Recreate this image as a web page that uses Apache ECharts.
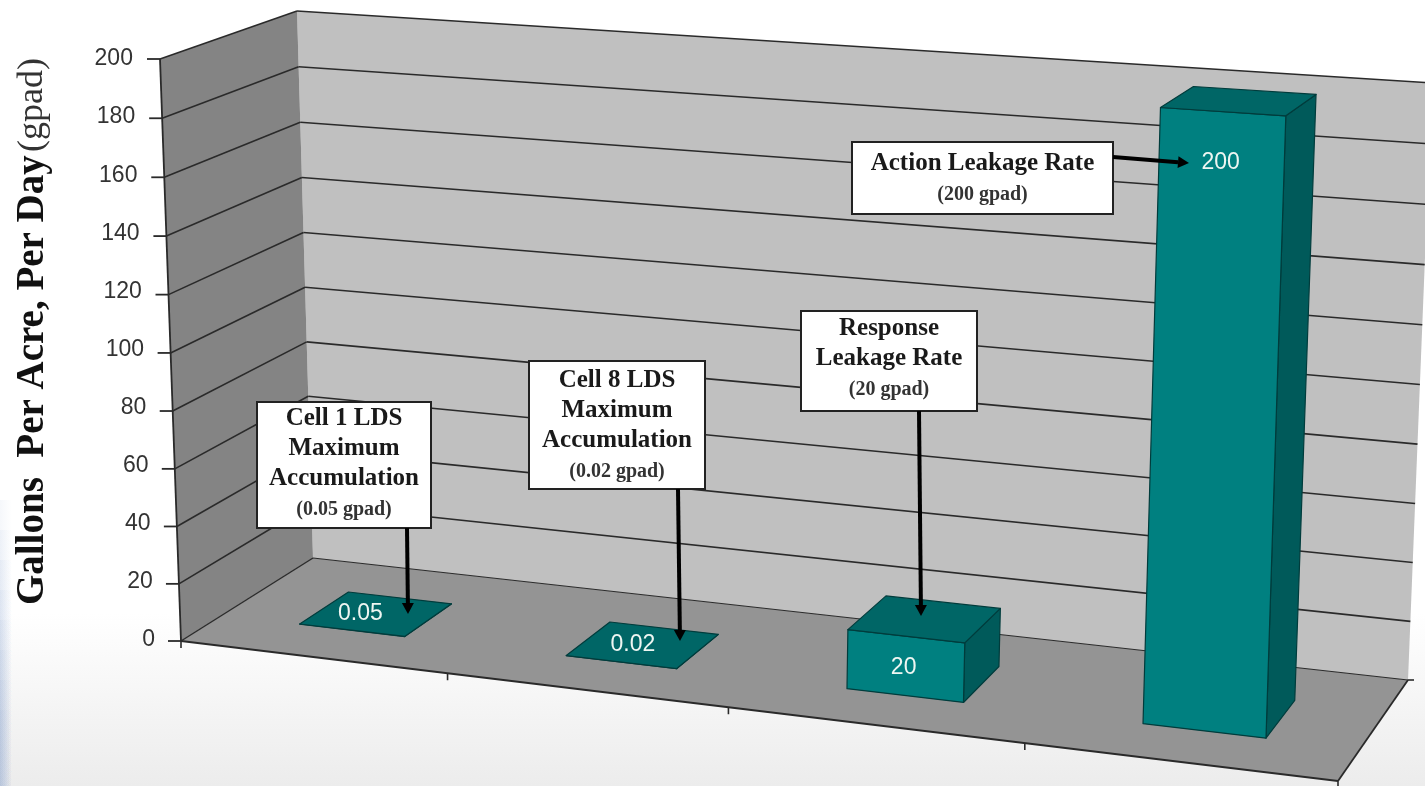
<!DOCTYPE html>
<html>
<head>
<meta charset="utf-8">
<style>
html,body{margin:0;padding:0;background:#fff;overflow:hidden}
#chart{width:1425px;height:786px;filter:blur(0.6px)}
</style>
<script src="https://cdn.jsdelivr.net/npm/echarts@6/dist/echarts.min.js"></script>
</head>
<body>
<div id="chart"></div>
<script>
// ---- data ----
const categories = ['Cell 1 LDS', 'Cell 8 LDS', 'Response Leakage Rate', 'Action Leakage Rate'];
const leakageValues = [0.05, 0.02, 20, 200];
const valueLabels = ['0.05', '0.02', '20', '200'];
const yTickValues = [0, 20, 40, 60, 80, 100, 120, 140, 160, 180, 200];
const axisTitle = 'Gallons  Per Acre, Per Day';
const axisUnit = '(gpad)';
const noteTitles = [
  ['Cell 1 LDS', 'Maximum', 'Accumulation'],
  ['Cell 8 LDS', 'Maximum', 'Accumulation'],
  ['Response', 'Leakage Rate'],
  ['Action Leakage Rate']
];
const noteSubtitles = ['(0.05 gpad)', '(0.02 gpad)', '(20 gpad)', '(200 gpad)'];

// ---- layout: the box in perspective (screen corners of the chart's 3D cube) ----
const FLOOR = {a: [181, 641], b: [1338, 781], c: [313, 558], d: [1408, 680]};
const ROOF  = {a: [160, 59],  b: [1358, 140], c: [297, 11],  d: [1432, 83]};
const GRID = {left: 160, right: 85, top: 59, bottom: 146};
const BAR_BAND = 0.40, DEPTH_FRONT = 0.30, DEPTH_BACK = 0.68, HEIGHT_PERSPECTIVE = 0.98;
const LABEL_OFFSET = [[-17, 1], [-11, 1], [-22, 50], [-19, 62]];
const NOTE_BOXES = [[257, 402, 174, 126], [529, 361, 176, 128], [801, 311, 176, 100], [852, 142, 261, 72]];
const NOTE_ARROWS = [[[407, 528], [408, 614]], [[678, 489], [680, 641]], [[919, 411], [921, 616]], [[1113, 157], [1189, 163]]];
const NOTE_TEXT_TOP = [404, 366, 314, 149];

const COLORS = {wall: '#c0c0c0', side: '#848484', floor: '#949494', line: '#2a2a2a',
                barFront: '#008080', barTop: '#006666', barSide: '#005a5a', barEdge: '#003c3c'};

function quadMap(q) {
  const bx = q.b[0] - q.d[0], by = q.b[1] - q.d[1], cx = q.c[0] - q.d[0], cy = q.c[1] - q.d[1];
  const ax = q.a[0] - q.d[0], ay = q.a[1] - q.d[1];
  const det = bx * cy - cx * by;
  const wu = (ax * cy - cx * ay) / det, wd = (bx * ay - ax * by) / det;
  return function (u, d) {
    const w = 1 + (wu - 1) * u + (wd - 1) * d;
    return [
      (q.a[0] + (wu * q.b[0] - q.a[0]) * u + (wd * q.c[0] - q.a[0]) * d) / w,
      (q.a[1] + (wu * q.b[1] - q.a[1]) * u + (wd * q.c[1] - q.a[1]) * d) / w
    ];
  };
}
const floorAt = quadMap(FLOOR), roofAt = quadMap(ROOF);
// u, d and h are all in 0..1: along the categories, into the depth, up the value axis
function project(u, d, h) {
  const t = h * HEIGHT_PERSPECTIVE / (1 + (HEIGHT_PERSPECTIVE - 1) * h);
  const f = floorAt(u, d), r = roofAt(u, d);
  return [f[0] + (r[0] - f[0]) * t, f[1] + (r[1] - f[1]) * t];
}
function shapeOf(params, api, xy) {
  const cs = params.coordSys;
  return {u: (xy[0] - cs.x) / cs.width, h: (cs.y + cs.height - xy[1]) / cs.height, cs: cs};
}
function poly(points, fill, stroke, z) {
  return {type: 'polygon', z2: z || 0, shape: {points: points},
    style: {fill: fill, stroke: stroke || 'none', lineWidth: stroke ? 1.2 : 0, lineJoin: 'round'}};
}
function seg(p, q, width, z) {
  return {type: 'line', z2: z || 1, shape: {x1: p[0], y1: p[1], x2: q[0], y2: q[1]},
    style: {stroke: COLORS.line, lineWidth: width || 1.5}};
}

function renderRoom(params, api) {
  const top = 1;
  const children = [
    poly([project(0, 1, 0), project(1, 1, 0), project(1, 1, top), project(0, 1, top)], COLORS.wall),
    poly([project(0, 0, 0), project(0, 1, 0), project(0, 1, top), project(0, 0, top)], COLORS.side),
    poly([project(0, 0, 0), project(1, 0, 0), project(1, 1, 0), project(0, 1, 0)], COLORS.floor),
    seg(project(0, 0, 0), project(0, 0, top), 1.8),
    seg(project(0, 0, 0), project(1, 0, 0), 1.8),
    seg(project(1, 0, 0), project(1, 1, 0), 1.8),
    seg(project(0, 0, 0), project(0, 1, 0), 1.4),
    seg(project(0, 1, 0), project(1, 1, 0), 1.2)
  ];
  [0, 0.25, 0.5, 0.75, 1].forEach(function (u) {
    const p = project(u, 0, 0);
    children.push(seg(p, [p[0], p[1] + 7], 1.6));
  });
  const e = project(1, 1, 0);
  children.push(seg(e, [e[0] + 6, e[1]], 1.6));
  return {type: 'group', children: children};
}

function renderGridLine(params, api) {
  const xy = api.coord([0, api.value(0)]);
  const h = shapeOf(params, api, xy).h;
  const p0 = project(0, 0, h), p1 = project(0, 1, h), p2 = project(1, 1, h);
  const children = [seg(p0, [p0[0] - 13, p0[1]], 1.8)];
  if (h > 0) {
    children.push(seg(p0, p1, 1.6), seg(p1, p2, 1.6));
  }
  return {type: 'group', children: children};
}

function renderBar(params, api) {
  const i = api.value(0), val = api.value(1);
  const xy = api.coord([i, val]);
  const s = shapeOf(params, api, xy);
  const half = api.size([1, 0])[0] * BAR_BAND / 2 / s.cs.width;
  const uL = s.u - half, uR = s.u + half, h = s.h;
  const dF = DEPTH_FRONT, dB = DEPTH_BACK;
  const anchor = project(s.u, 0.5, h);
  const off = LABEL_OFFSET[i];
  const children = [
    poly([project(uR, dF, 0), project(uR, dB, 0), project(uR, dB, h), project(uR, dF, h)], COLORS.barSide, COLORS.barEdge),
    poly([project(uL, dF, 0), project(uR, dF, 0), project(uR, dF, h), project(uL, dF, h)], COLORS.barFront, COLORS.barEdge),
    poly([project(uL, dF, h), project(uR, dF, h), project(uR, dB, h), project(uL, dB, h)], COLORS.barTop, COLORS.barEdge),
    {type: 'text', z2: 5, x: anchor[0] + off[0], y: anchor[1] + off[1],
      style: {text: valueLabels[i], fill: '#eef6f2', font: '23px "Liberation Sans", Arial, sans-serif',
        align: 'center', verticalAlign: 'middle'}}
  ];
  return {type: 'group', children: children};
}

// annotation boxes and arrows
const noteGraphics = [];
{
  [500, 530, 560, 590, 620, 650, 680, 710].forEach(function (y) {
    noteGraphics.push({type: 'rect', z: 0, shape: {x: 0, y: y, width: 12, height: 786 - y},
      style: {fill: new echarts.graphic.LinearGradient(0, 0, 1, 0, [
        {offset: 0, color: 'rgba(120,150,200,0.07)'}, {offset: 1, color: 'rgba(120,150,200,0)'}])}});
  });
  NOTE_BOXES.forEach(function (b, i) {
    noteGraphics.push({type: 'rect', z: 10, shape: {x: b[0], y: b[1], width: b[2], height: b[3]},
      style: {fill: '#fff', stroke: '#222', lineWidth: 2}});
    const lines = noteTitles[i].map(function (t) { return '{t|' + t + '}'; }).join('\n') + '\n{s|' + noteSubtitles[i] + '}';
    noteGraphics.push({type: 'text', z: 11, x: b[0] + b[2] / 2, y: NOTE_TEXT_TOP[i],
      style: {text: lines, align: 'center', verticalAlign: 'top', textAlign: 'center',
        rich: {
          t: {font: 'bold 25px "Liberation Serif", serif', fill: '#1a1a1a', lineHeight: 30, align: 'center'},
          s: {font: 'bold 20px "Liberation Serif", serif', fill: '#333', lineHeight: 31, align: 'center'}
        }}});
    const a = NOTE_ARROWS[i], p = a[0], q = a[1];
    const len = Math.hypot(q[0] - p[0], q[1] - p[1]), ux = (q[0] - p[0]) / len, uy = (q[1] - p[1]) / len;
    const bx = q[0] - ux * 11, by = q[1] - uy * 11;
    noteGraphics.push({type: 'line', z: 12, shape: {x1: p[0], y1: p[1], x2: bx, y2: by},
      style: {stroke: '#000', lineWidth: 4}});
    noteGraphics.push({type: 'polygon', z: 12, shape: {points: [q, [bx - uy * 6, by + ux * 6], [bx + uy * 6, by - ux * 6]]},
      style: {fill: '#000'}});
  });
}

const chart = echarts.init(document.getElementById('chart'), null, {renderer: 'canvas'});
const rich = {
  title: {fontFamily: '"Liberation Serif", serif', fontWeight: 'bold', fontSize: 39, color: '#111'},
  unit: {fontFamily: '"Liberation Serif", serif', fontSize: 36, color: '#333'}
};
const labelRich = {};
yTickValues.forEach(function (v) {
  const pad = project(0, 0, 0)[0] - project(0, 0, v / 200)[0];
  labelRich['v' + v] = {padding: [0, pad * 1.05, 0, 0], align: 'right',
    fontFamily: '"Liberation Sans", Arial, sans-serif', fontSize: 23, color: '#333'};
});
chart.setOption({
  animation: false,
  backgroundColor: new echarts.graphic.LinearGradient(0, 0, 0, 1, [
    {offset: 0, color: '#ffffff'}, {offset: 0.78, color: '#ffffff'}, {offset: 1, color: '#ececec'}]),
  grid: GRID,
  xAxis: {type: 'category', data: categories, axisLine: {show: false}, axisTick: {show: false},
    axisLabel: {show: false}, splitLine: {show: false}},
  yAxis: {type: 'value', min: 0, max: 200, interval: 20,
    axisLine: {show: false}, axisTick: {show: false}, splitLine: {show: false},
    axisLabel: {margin: 5, formatter: function (v) { return '{v' + v + '|' + v + '}'; }, rich: labelRich},
    name: '{title|' + axisTitle + '} {unit|' + axisUnit + '}',
    nameLocation: 'middle', nameRotate: 90, nameGap: 108,
    nameTextStyle: {rich: rich, padding: [0, 0, 0, 36]}},
  graphic: noteGraphics,
  series: [
    {type: 'custom', name: 'room', z: 1, silent: true, clip: false, data: [[0, 0]], renderItem: renderRoom,
      encode: {x: 0, y: 1}},
    {type: 'custom', name: 'gridlines', z: 2, silent: true, clip: false,
      data: yTickValues.map(function (v) { return [v]; }), renderItem: renderGridLine, encode: {y: 0}},
    {type: 'custom', name: 'Leakage rate', z: 3, clip: false,
      data: leakageValues.map(function (v, i) { return [i, v]; }), renderItem: renderBar, encode: {x: 0, y: 1}}
  ]
});
</script>
</body>
</html>
